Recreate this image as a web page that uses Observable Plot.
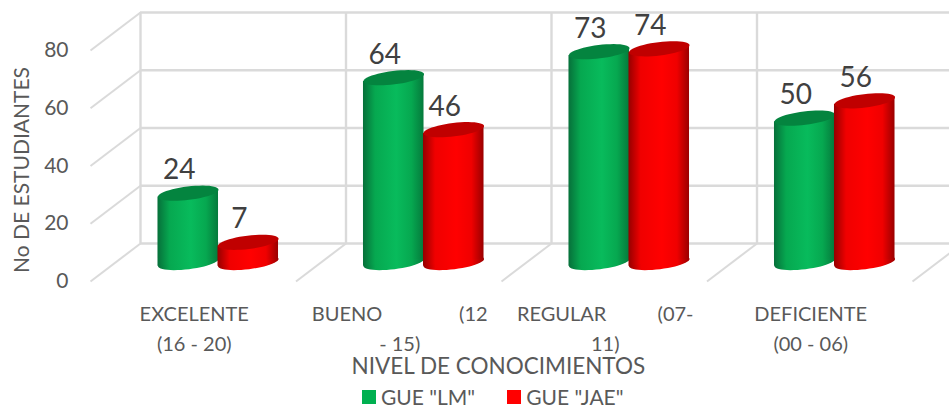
<!DOCTYPE html>
<html><head><meta charset="utf-8">
<script src="https://cdn.jsdelivr.net/npm/d3@7"></script>
<script src="https://cdn.jsdelivr.net/npm/@observablehq/plot@0.6"></script>
<style>
html,body{margin:0;padding:0;background:#fff;overflow:hidden;width:949px;height:405px}
svg text{white-space:pre}
#legend{position:absolute;left:362px;top:380px;width:400px}
.lg-swatch{margin-right:32px !important}
.lg-swatch > svg{margin-right:5px !important}
</style></head><body>
<div id="chart"></div>
<div id="legend"></div>
<script>
const categoryLabels = ["EXCELENTE\n(16 - 20)", "BUENO               (12\n- 15)", "REGULAR          (07-\n11)", "DEFICIENTE\n(00 - 06)"];
const seriesNames = ['GUE "LM"', 'GUE "JAE"'];
const lmValues = [24, 64, 73, 50];
const jaeValues = [7, 46, 74, 56];
const yTicks = [0, 20, 40, 60, 80];
const seriesColors = ["#00b050", "#ff0000"];
const topColors = ["#04843f", "#c00000"];
const xTitle = "NIVEL DE CONOCIMIENTOS";
const yTitle = "No DE ESTUDIANTES";

const font = "Lato, 'Noto Sans', sans-serif";
const unitX = 205.5, unitY = 2.8875;
const halfW = 30 / unitX;         // cylinder half width in category units
const depthX = 25 / unitX;        // half depth of the 3D box
const depthY = 19 / unitY;
const radius = 30.5, tilt = -7 * Math.PI / 180;
const tiltX = radius * Math.cos(tilt) / unitX;
const tiltY = -radius * Math.sin(tilt) / unitY;

const ellipse = {
  draw(ctx, size) {
    const r = Math.sqrt(size / Math.PI), ry = r * 0.22;
    for (let i = 0; i < 48; i++) {
      const t = i / 48 * 2 * Math.PI;
      const ex = r * Math.cos(t), ey = ry * Math.sin(t);
      const px = ex * Math.cos(tilt) - ey * Math.sin(tilt), py = ex * Math.sin(tilt) + ey * Math.cos(tilt);
      i ? ctx.lineTo(px, py) : ctx.moveTo(px, py);
    }
    ctx.closePath();
  }
};

const defs = () => {
  const d = d3.create("svg:defs");
  [["gGreen", "#06703a", "#06a850", "#08bb5c", "#057a3c"], ["gRed", "#960000", "#f00000", "#ff0000", "#9a0000"]].forEach(([id, a, b, c, e]) => {
    const g = d.append("linearGradient").attr("id", id).attr("x1", 0).attr("x2", 1).attr("y1", 0).attr("y2", 0);
    [[0, a], [0.2, b], [0.55, c], [0.8, b], [1, e]].forEach(([o, col]) => g.append("stop").attr("offset", o).attr("stop-color", col));
  });
  return d.node();
};

const rows = (values, s) => values.map((v, i) => ({v, i, c: i + 0.5 + s * halfW}));
const cylinder = (values, s, grad, top) => {
  const data = rows(values, s);
  const edges = data.flatMap(d => [
    {i: d.i, x: d.c - tiltX, b: -tiltY, t: d.v - tiltY},
    {i: d.i, x: d.c + tiltX, b: tiltY, t: d.v + tiltY}
  ]);
  return [
    Plot.dot(data, {x: "c", y: 0, r: radius, symbol: ellipse, fill: `url(#${grad})`, stroke: "none"}),
    Plot.area(edges, {x1: "x", y1: "b", y2: "t", z: "i", fill: `url(#${grad})`}),
    Plot.dot(data, {x: "c", y: "v", r: radius, symbol: ellipse, fill: top, stroke: "none"})
  ];
};
const valueLabels = (values, s) => Plot.text(rows(values, s), {x: "c", y: "v", text: d => String(d.v), dx: -9, dy: -23, fontSize: 28, fill: "#404040", fontFamily: font});

const gridColor = "#dadada";
const svg = Plot.plot({
  width: 949, height: 380,
  marginLeft: 115, marginRight: 12, marginTop: 31, marginBottom: 118,
  style: {fontFamily: font, background: "#fff", overflow: "hidden"},
  x: {domain: [0, 4], axis: null},
  y: {domain: [0, 80], axis: null},
  marks: [
    defs,
    Plot.ruleY(yTicks, {x1: depthX, x2: 4.2, y: d => d + depthY, stroke: gridColor, strokeWidth: 2.4}),
    Plot.ruleX(d3.range(5), {x: d => d + depthX, y1: depthY, y2: 80 + depthY, stroke: gridColor, strokeWidth: 2.4}),
    Plot.link(yTicks, {x1: -depthX, x2: depthX, y1: d => d - depthY, y2: d => d + depthY, stroke: gridColor, strokeWidth: 2}),
    Plot.link([1, 2, 3, 4], {x1: d => d - depthX, x2: d => d + depthX, y1: -depthY, y2: depthY, stroke: gridColor, strokeWidth: 2}),
    ...cylinder(lmValues, -1, "gGreen", topColors[0]),
    ...cylinder(jaeValues, 1, "gRed", topColors[1]),
    valueLabels(lmValues, -1),
    valueLabels(jaeValues, 1),
    Plot.text(yTicks, {frameAnchor: "left", y: d => d, dx: -47, dy: 19, text: d => String(d), textAnchor: "end", fontSize: 21, fill: "#595959", fontFamily: font}),
    Plot.text([yTitle], {frameAnchor: "left", textAnchor: "middle", dx: -93, dy: 23, rotate: -90, fontSize: 21, fill: "#595959", fontFamily: font}),
    Plot.text(categoryLabels, {x: (d, i) => i + 0.5, frameAnchor: "bottom", dx: -24, dy: 64, lineHeight: 1.5, fontSize: 20, fill: "#595959", fontFamily: font, lineAnchor: "middle"}),
    Plot.text([xTitle], {x: 1.863, frameAnchor: "bottom", dy: 104, fontSize: 22.5, fill: "#595959", fontFamily: font, lineAnchor: "middle"})
  ]
});
document.getElementById("chart").appendChild(svg);
svg.style.display = "block";

const legend = Plot.legend({
  color: {type: "ordinal", domain: seriesNames, range: seriesColors},
  swatchSize: 14,
  className: "lg",
  style: {fontFamily: font, fontSize: "21px", color: "#595959"}
});
document.getElementById("legend").appendChild(legend);
</script>
</body></html>
